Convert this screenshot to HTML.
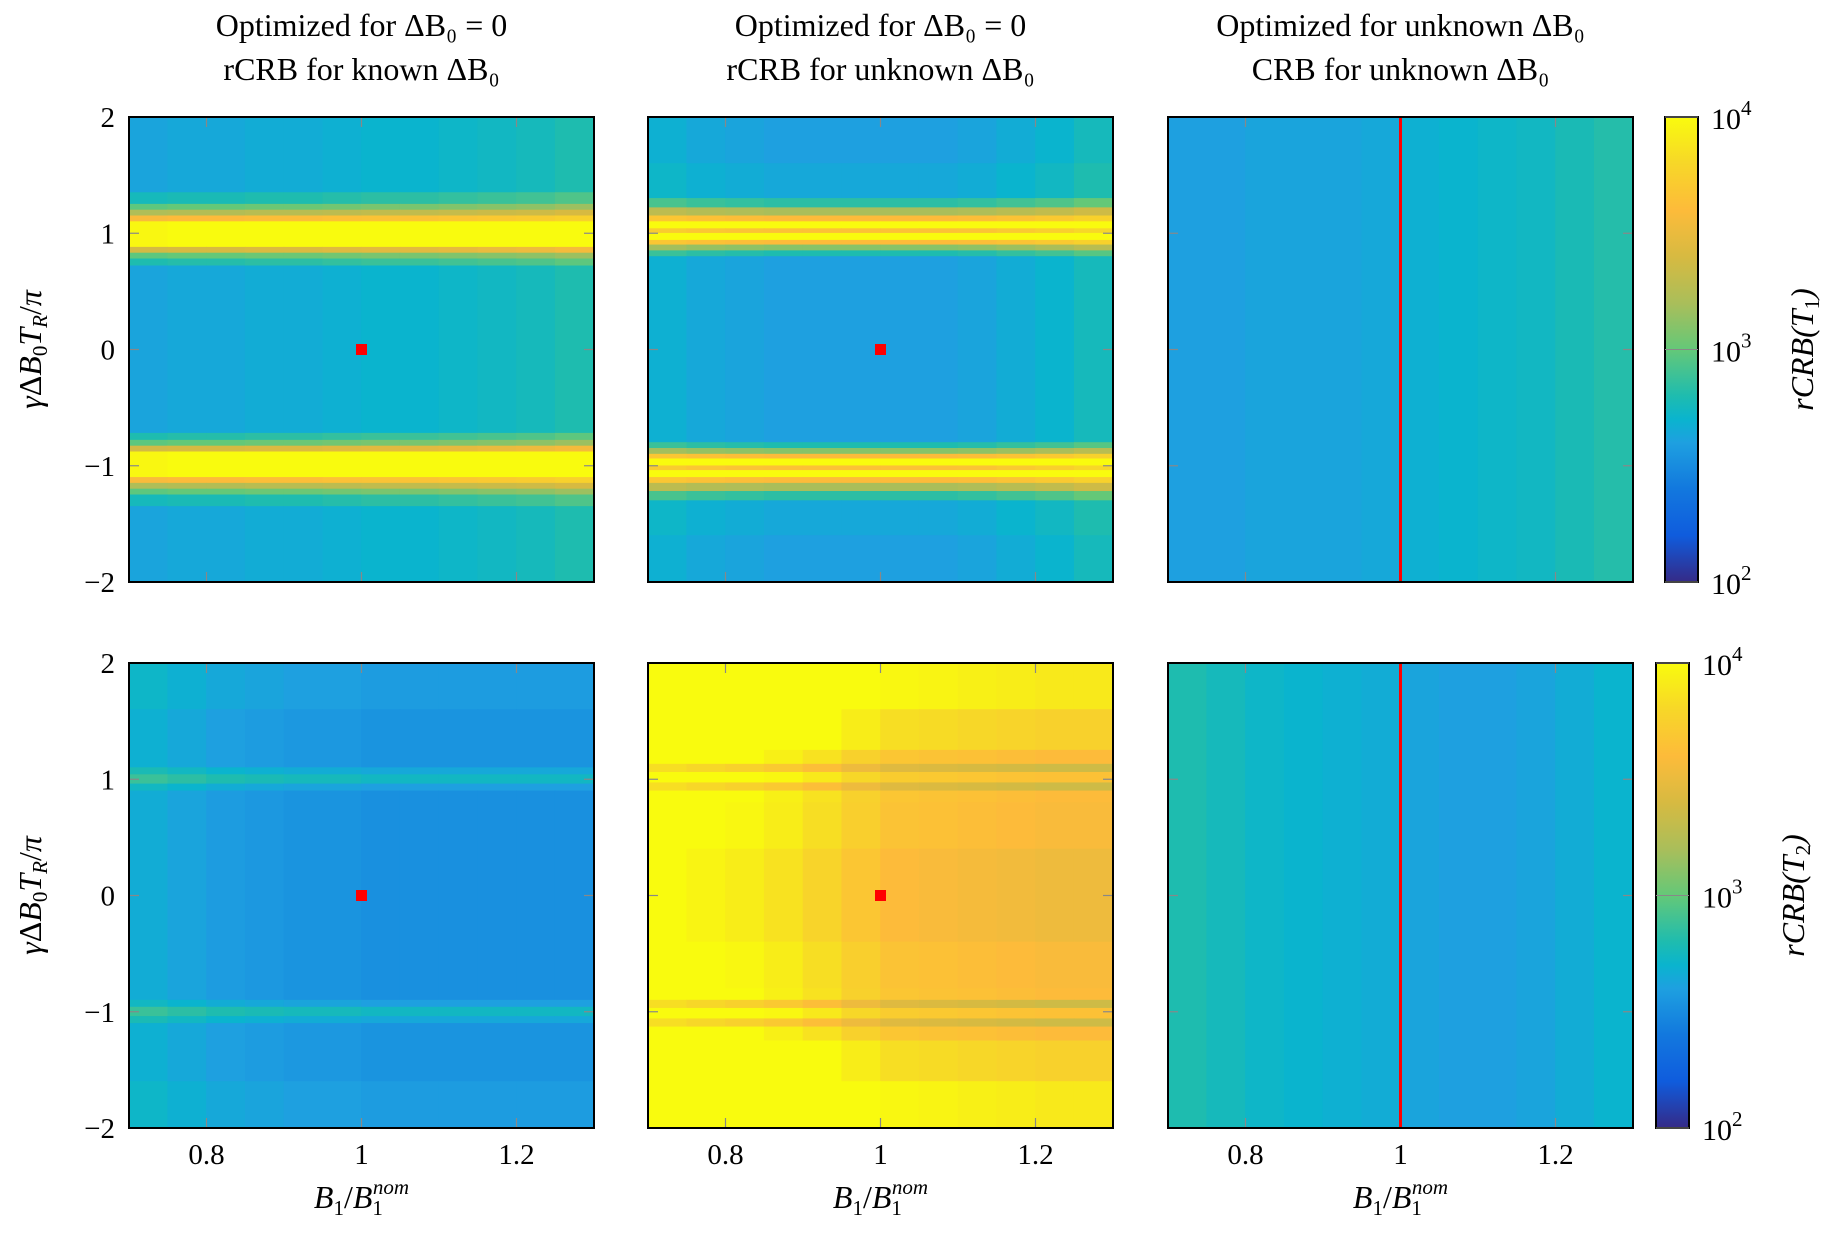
<!DOCTYPE html>
<html><head><meta charset="utf-8"><style>
body{margin:0;background:#fff;width:1833px;height:1233px;overflow:hidden}
svg text{font-family:"Liberation Serif",serif;fill:#000}
</style></head><body>
<svg id="fig" width="1833" height="1233" xmlns="http://www.w3.org/2000/svg"></svg>
<script>
// x columns (B1/B1nom centers), y bands [yTop,yBottom,t]
const xCols=[0.725,0.775,0.825,0.875,0.925,0.975,1.025,1.075,1.125,1.175,1.225,1.275];
const p1Rows=[[2,1.35,0.32],[1.35,1.25,0.39],[1.25,1.2,0.5],[1.2,1.15,0.62],[1.15,1.1,0.8],[1.1,0.88,1.0],[0.88,0.83,0.7],[0.83,0.78,0.5],[0.78,0.72,0.41],[0.72,-0.72,0.32],[-0.72,-0.78,0.41],[-0.78,-0.83,0.5],[-0.83,-0.88,0.7],[-0.88,-1.1,1.0],[-1.1,-1.15,0.8],[-1.15,-1.2,0.62],[-1.2,-1.25,0.5],[-1.25,-1.35,0.39],[-1.35,-2,0.32]];
const p1Cols=[-0.01,0,0,0.01,0.01,0.02,0.03,0.03,0.04,0.05,0.06,0.08];
const p2Rows=[[2,1.6,0.3],[1.6,1.3,0.32],[1.3,1.22,0.42],[1.22,1.15,0.6],[1.15,1.1,0.8],[1.1,1.04,1.0],[1.04,1.0,0.82],[1.0,0.94,1.0],[0.94,0.9,0.8],[0.9,0.85,0.55],[0.85,0.8,0.4],[0.8,-0.8,0.3],[-0.8,-0.85,0.4],[-0.85,-0.9,0.55],[-0.9,-0.94,0.8],[-0.94,-1.0,1.0],[-1.0,-1.04,0.82],[-1.04,-1.1,1.0],[-1.1,-1.15,0.8],[-1.15,-1.22,0.6],[-1.22,-1.3,0.42],[-1.3,-1.6,0.32],[-1.6,-2,0.3]];
const p2Cols=[0.04,0.02,0.01,0,0,0,0,0,0.01,0.03,0.05,0.08];
const p3Rows=[[2,-2,0]];
const p3Cols=[0.30,0.30,0.31,0.31,0.31,0.32,0.34,0.35,0.36,0.37,0.39,0.41];
const p4Rows=[[2,1.6,0.29],[1.6,1.1,0.27],[1.1,1.04,0.32],[1.04,0.96,0.37],[0.96,0.9,0.3],[0.9,-0.9,0.26],[-0.9,-0.96,0.3],[-0.96,-1.04,0.37],[-1.04,-1.1,0.32],[-1.1,-1.6,0.27],[-1.6,-2,0.29]];
const p4Cols=[0.07,0.05,0.03,0.02,0.01,0.01,0,0,0,0,0,0];
const p5Rows=[[2,1.6,0.95],[1.6,1.25,0.88],[1.25,1.13,0.8],[1.13,1.06,0.68],[1.06,0.97,0.82],[0.97,0.9,0.68],[0.9,0.8,0.8],[0.8,0.4,0.79],[0.4,-0.4,0.76],[-0.4,-0.8,0.79],[-0.8,-0.9,0.8],[-0.9,-0.97,0.68],[-0.97,-1.06,0.82],[-1.06,-1.13,0.68],[-1.13,-1.25,0.8],[-1.25,-1.6,0.88],[-1.6,-2,0.95]];
const p5Cols=[0.24,0.22,0.2,0.17,0.13,0.08,0.04,0.03,0.02,0.01,0.0,0.0];
const p6Rows=[[2,-2,0]];
const p6Cols=[0.40,0.38,0.36,0.35,0.34,0.33,0.31,0.30,0.30,0.31,0.33,0.35];
const xTicks=[0.8,1,1.2], yTicks=[2,1,0,-1,-2], yTickLabels=["2","1","0","\u22121","\u22122"];
const markers=[1,0];

const NS="http://www.w3.org/2000/svg", svg=document.getElementById('fig');
function el(t,a,p){const e=document.createElementNS(NS,t);for(const k in a)e.setAttribute(k,a[k]);(p||svg).appendChild(e);return e;}
const stops=[[0,[53,42,135]],[0.1,[15,92,221]],[0.2,[18,120,222]],[0.3,[30,160,224]],[0.35,[10,180,206]],[0.4,[30,188,175]],[0.5,[100,200,120]],[0.6,[170,190,90]],[0.7,[215,186,65]],[0.8,[253,187,58]],[0.9,[247,215,40]],[1,[249,251,14]]];
function cmap(t){t=Math.max(0,Math.min(1,t));for(let i=1;i<stops.length;i++){if(t<=stops[i][0]){const a=stops[i-1],b=stops[i],f=(t-a[0])/(b[0]-a[0]);return 'rgb('+a[1].map((v,k)=>Math.round(v+(b[1][k]-v)*f)).join(',')+')';}}return 'rgb(249,251,14)';}
const PX=[129,648,1168], PY=[117,663], W=465, H=465;
const panels=[[p1Rows,p1Cols,0,0,'dot'],[p2Rows,p2Cols,1,0,'dot'],[p3Rows,p3Cols,2,0,'line'],[p4Rows,p4Cols,0,1,'dot'],[p5Rows,p5Cols,1,1,'dot'],[p6Rows,p6Cols,2,1,'line']];
panels.forEach((p,pi)=>{
  const [rows,cols,cx,cy,mk]=p, x0=PX[cx], y0=PY[cy];
  const sx=v=>x0+(v-0.7)/0.6*W, sy=v=>y0+(2-v)/4*H;
  const g=el('g',{});
  
  
  rows.forEach(r=>{xCols.forEach((xc,j)=>{
    const c=el('rect',{x:sx(xc-0.025)-0.3,y:sy(r[0])-0.3,width:sx(xc+0.025)-sx(xc-0.025)+0.6,height:sy(r[1])-sy(r[0])+0.6,fill:cmap(r[2]+cols[j])},g);
    
    
  });});
  xTicks.forEach(v=>{el('line',{x1:sx(v),x2:sx(v),y1:y0,y2:y0+10,stroke:'#888','stroke-width':1.2},g);el('line',{x1:sx(v),x2:sx(v),y1:y0+H,y2:y0+H-10,stroke:'#888','stroke-width':1.2},g);});
  yTicks.forEach(v=>{el('line',{x1:x0,x2:x0+10,y1:sy(v),y2:sy(v),stroke:'#888','stroke-width':1.2},g);el('line',{x1:x0+W,x2:x0+W-10,y1:sy(v),y2:sy(v),stroke:'#888','stroke-width':1.2},g);});
  if(mk==='dot'){const m=el('rect',{x:sx(markers[0])-5.5,y:sy(markers[1])-5.5,width:11,height:11,fill:'#ff0000'},g);}
  else{const m=el('line',{x1:sx(markers[0]),x2:sx(markers[0]),y1:y0,y2:y0+H,stroke:'#ff0000','stroke-width':3},g);}
  el('rect',{x:x0,y:y0,width:W,height:H,fill:'none',stroke:'#000','stroke-width':2},g);
  if(cx===0){yTicks.forEach((v,i)=>{const t=el('text',{x:x0-14,y:sy(v)+10,'font-size':29,'text-anchor':'end'},g);t.textContent=yTickLabels[i];});
    const yl=el('text',{transform:`translate(${x0-88},${y0+H/2}) rotate(-90)`,'font-size':32,'text-anchor':'middle'},g);
    yl.innerHTML='<tspan font-style="italic">γ</tspan>Δ<tspan font-style="italic">B</tspan><tspan font-size="21" dy="6">0</tspan><tspan font-style="italic" dy="-6">T</tspan><tspan font-size="21" font-style="italic" dy="6">R</tspan><tspan dy="-6">/</tspan><tspan font-style="italic">π</tspan>';
    }
  if(cy===1){xTicks.forEach(v=>{const t=el('text',{x:sx(v),y:y0+H+36,'font-size':29,'text-anchor':'middle'},g);t.textContent=String(v);});
    const xl=el('text',{x:x0+W/2,y:1208,'font-size':32,'text-anchor':'middle'},g);
    xl.innerHTML='<tspan font-style="italic">B</tspan><tspan font-size="21" dy="7">1</tspan><tspan dy="-7">/</tspan><tspan font-style="italic">B</tspan><tspan font-size="21" dy="7">1</tspan><tspan font-size="21" font-style="italic" dy="-21" dx="-10">nom</tspan>';
    }
});
// titles
const titles=[['Optimized for ΔB₀ = 0','rCRB for known ΔB₀'],['Optimized for ΔB₀ = 0','rCRB for unknown ΔB₀'],['Optimized for unknown ΔB₀','CRB for unknown ΔB₀']];
titles.forEach((tt,i)=>{tt.forEach((s,k)=>{const t=el('text',{x:PX[i]+W/2,y:36+k*44,'font-size':32,'text-anchor':'middle'});t.textContent=s;});});
// colorbars
const defs=el('defs',{});const lg=el('linearGradient',{id:'par',x1:0,y1:1,x2:0,y2:0},defs);
for(let i=0;i<=20;i++)el('stop',{offset:i/20,'stop-color':cmap(i/20)},lg);
const cbTicks=[2,3,4];
[[1665,117,'T₁'],[1656,663,'T₂']].forEach((c,i)=>{
  const g=el('g',{});
  el('rect',{x:c[0],y:c[1],width:33,height:H,fill:'url(#par)',stroke:'#000','stroke-width':2},g);
  cbTicks.forEach(v=>{const y=c[1]+H-(v-2)/2*H;el('line',{x1:c[0],x2:c[0]+33,y1:y,y2:y,stroke:'#888','stroke-width':1},g);
    const t=el('text',{x:c[0]+46,y:y+12,'font-size':30},g);t.innerHTML='10<tspan font-size="21" dy="-14">'+v+'</tspan>';});
  const l=el('text',{transform:`translate(${c[0]+148},${c[1]+H/2}) rotate(-90)`,'font-size':32,'text-anchor':'middle','font-style':'italic'},g);
  l.innerHTML='rCRB(T<tspan font-size="21" dy="6" font-style="normal">'+(i+1)+'</tspan><tspan dy="-6">)</tspan>';
  
});
</script>
</body></html>
